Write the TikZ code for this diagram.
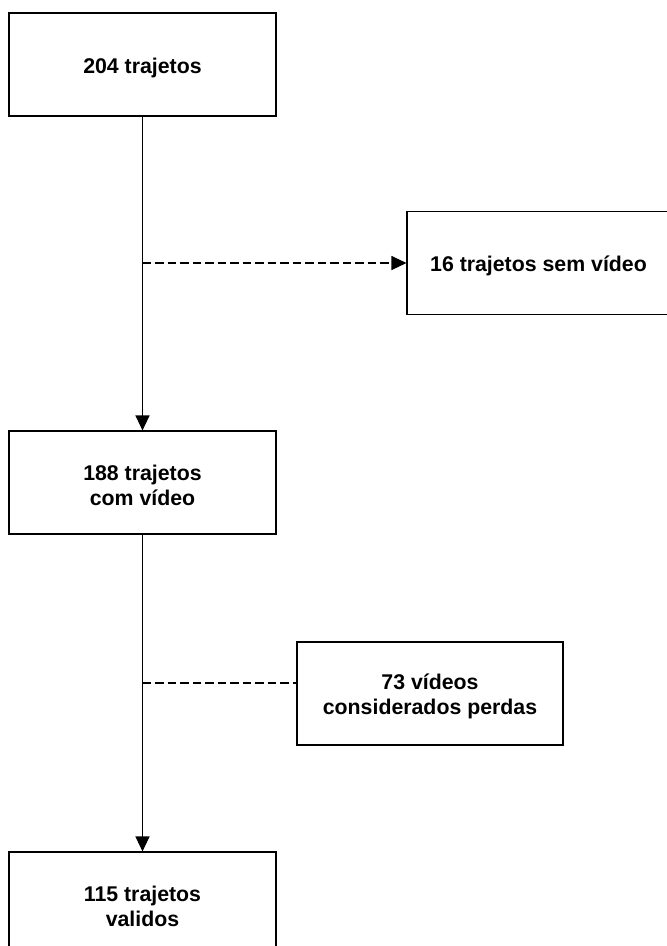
\documentclass[tikz,border=0pt]{standalone}
\usepackage{fontspec}
\setmainfont{Liberation Sans}
\usetikzlibrary{arrows.meta}
\begin{document}
\begin{tikzpicture}[x=1pt,y=-1pt,
  box/.style={draw=black,line width=1.1pt,inner sep=0pt,minimum height=103pt},
  label text/.style={inner sep=0pt,align=center,yshift=-3pt,
    font=\fontsize{21.3}{25.5}\selectfont\bfseries},
  flow/.style={draw=black,line width=1.1pt},
  tip/.style={-{Triangle[length=15pt,width=14pt]}},
  side/.style={flow,dash pattern=on 8.5pt off 4pt}]
  \clip (0,0) rectangle (667,946);
  \fill[white] (0,0) rectangle (667,946);
  % main column
  \node[box,minimum width=267pt] (b1) at (142.5,64.5) {};
  \node[box,minimum width=267pt] (b3) at (142.5,482.5) {};
  \node[box,minimum width=267pt] (b5) at (142.5,903.5) {};
  % side boxes
  \node[box,minimum width=263pt] (b2) at (538.5,263) {};
  \node[box,minimum width=266pt] (b4) at (430,693.5) {};
  % box texts
  \node[label text] (t1) at (b1.center) {204 trajetos};
  \node[label text] (t3) at (b3.center) {188 trajetos\\com vídeo};
  \node[label text] (t5) at (b5.center) {115 trajetos\\validos};
  \node[label text] (t2) at (b2.center) {16 trajetos sem vídeo};
  \node[label text] (t4) at (b4.center) {73 vídeos\\considerados perdas};
  % connectors
  \draw[flow,tip] (b1.south) -- (b3.north);
  \draw[flow,tip] (b3.south) -- (b5.north);
  \coordinate (j1) at (142.5,263);
  \coordinate (j2) at (142.5,683);
  \draw[side,tip] (j1) -- (b2.west);
  \draw[side] (j2) -- (j2 -| b4.west);
\end{tikzpicture}
\end{document}
